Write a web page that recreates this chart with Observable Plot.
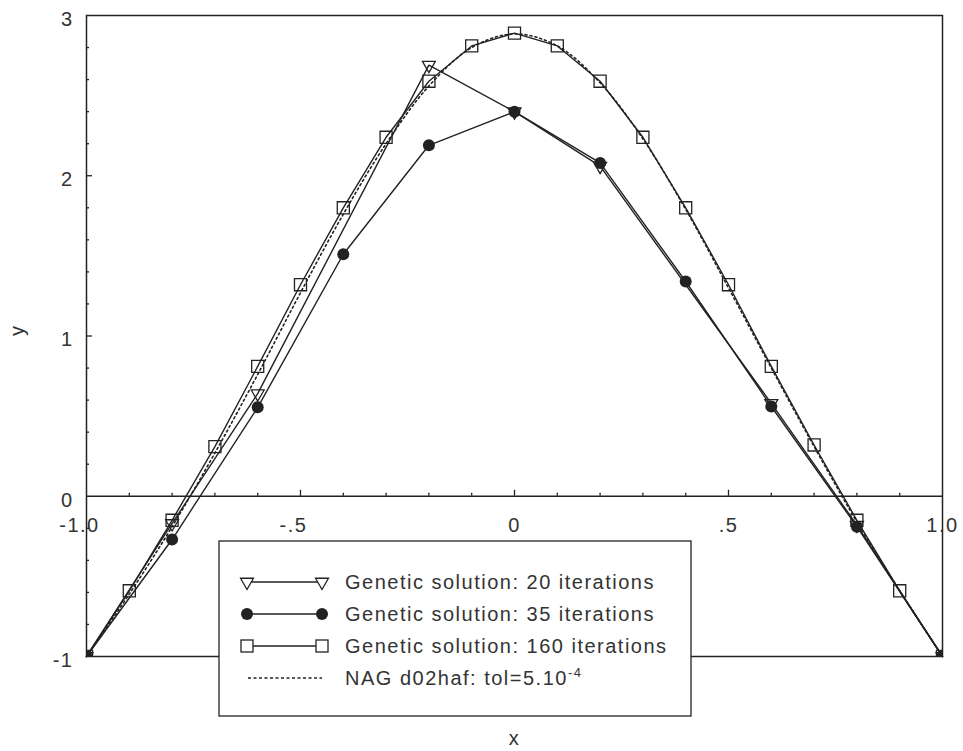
<!DOCTYPE html>
<html>
<head>
<meta charset="utf-8">
<script src="https://cdn.jsdelivr.net/npm/d3@7"></script>
<script src="https://cdn.jsdelivr.net/npm/@observablehq/plot@0.6"></script>
<style>
  html, body { margin: 0; padding: 0; background: #fff; }
  #chart { position: relative; width: 963px; height: 751px; }
</style>
</head>
<body>
<div id="chart"></div>
<script>
// ---- data ----
const xSq = [-1, -0.9, -0.8, -0.7, -0.6, -0.5, -0.4, -0.3, -0.2, -0.1, 0, 0.1, 0.2, 0.3, 0.4, 0.5, 0.6, 0.7, 0.8, 0.9, 1];
const ySq160 = [-1, -0.59, -0.15, 0.31, 0.81, 1.32, 1.80, 2.24, 2.59, 2.81, 2.89, 2.81, 2.59, 2.24, 1.80, 1.32, 0.81, 0.32, -0.15, -0.59, -1];

const xCirc = [-1, -0.8, -0.6, -0.4, -0.2, 0, 0.2, 0.4, 0.6, 0.8, 1];
const yCirc35 = [-1, -0.27, 0.555, 1.51, 2.19, 2.40, 2.08, 1.34, 0.56, -0.19, -1];

const xTri = [-1, -0.8, -0.6, -0.2, 0, 0.2, 0.6, 0.8, 1];
const yTri20 = [-1, -0.17, 0.64, 2.69, 2.40, 2.06, 0.58, -0.18, -1];

const xNag = [-1, -0.9, -0.8, -0.7, -0.6, -0.5, -0.4, -0.3, -0.2, -0.1, 0, 0.1, 0.2, 0.3, 0.4, 0.5, 0.6, 0.7, 0.8, 0.9, 1];
const yNag = [-1, -0.61, -0.19, 0.27, 0.76, 1.27, 1.76, 2.20, 2.56, 2.80, 2.885, 2.81, 2.58, 2.23, 1.79, 1.30, 0.80, 0.31, -0.16, -0.59, -1];

const xTickValues = [-1, -0.5, 0, 0.5, 1];
const xTickLabels = ["-1.0", "-.5", "0", ".5", "1.0"];
const xMinorTicks = [-0.9, -0.8, -0.7, -0.6, -0.4, -0.3, -0.2, -0.1, 0.1, 0.2, 0.3, 0.4, 0.6, 0.7, 0.8, 0.9];
const xMajorTicks = [-0.5, 0, 0.5];

const yTickValues = [-1, 0, 1, 2, 3];
const yTickLabels = ["-1", "0", "1", "2", "3"];
const yMinorTicks = [-0.8, -0.6, -0.4, -0.2, 0.2, 0.4, 0.6, 0.8, 1.2, 1.4, 1.6, 1.8, 2.2, 2.4, 2.6, 2.8];
const yMajorTicks = [1, 2];

const seriesNames = ["Genetic solution: 20 iterations", "Genetic solution: 35 iterations", "Genetic solution: 160 iterations", "NAG d02haf: tol=5.10"];

// ---- build tables ----
const sq = xSq.map((x, i) => ({x, y: ySq160[i]}));
const circ = xCirc.map((x, i) => ({x, y: yCirc35[i]}));
const tri = xTri.map((x, i) => ({x, y: yTri20[i]}));
const nag = xNag.map((x, i) => ({x, y: yNag[i]}));
const xLab = xTickValues.map((v, i) => ({v, t: xTickLabels[i]}));
const yLab = yTickValues.map((v, i) => ({v, t: yTickLabels[i]}));

const ink = "#222";
const W = 963, H = 751, mL = 86, mR = 21, mT = 15, mB = 95;
const pxY = 4 / (H - mT - mB);
const pxX = 2 / (W - mL - mR);

const downTriangle = {
  draw(ctx, size) {
    const s3 = Math.sqrt(3);
    const y = Math.sqrt(size / (s3 * 3));
    ctx.moveTo(0, 2 * y);
    ctx.lineTo(-s3 * y, -y);
    ctx.lineTo(s3 * y, -y);
    ctx.closePath();
  }
};

const font = "'Liberation Sans', Arial, Helvetica, sans-serif";

const svg = Plot.plot({
  width: W, height: H,
  marginLeft: mL, marginRight: mR, marginTop: mT, marginBottom: mB,
  x: {domain: [-1, 1], axis: null},
  y: {domain: [-1, 3], axis: null},
  style: {fontFamily: font, fontSize: "20px", background: "#fff", color: ink, letterSpacing: "1.5px"},
  marks: [
    Plot.ruleY([0], {stroke: ink, strokeWidth: 1.3}),
    Plot.ruleX(xMinorTicks, {x: d => d, y1: 0, y2: 3 * pxY, stroke: ink, strokeWidth: 1.3}),
    Plot.ruleX(xMajorTicks, {x: d => d, y1: 0, y2: 6 * pxY, stroke: ink, strokeWidth: 1.3}),
    Plot.ruleY(yMinorTicks, {y: d => d, x1: -1, x2: -1 + 3 * pxX, stroke: ink, strokeWidth: 1.3}),
    Plot.ruleY(yMajorTicks, {y: d => d, x1: -1, x2: -1 + 6 * pxX, stroke: ink, strokeWidth: 1.3}),
    Plot.line(nag, {x: "x", y: "y", curve: "catmull-rom", stroke: ink, strokeWidth: 1.6, strokeDasharray: "2,3"}),
    Plot.line(tri, {x: "x", y: "y", stroke: ink, strokeWidth: 1.4}),
    Plot.line(circ, {x: "x", y: "y", stroke: ink, strokeWidth: 1.4}),
    Plot.line(sq, {x: "x", y: "y", stroke: ink, strokeWidth: 1.4}),
    Plot.dot(tri, {x: "x", y: "y", symbol: downTriangle, r: 4.8, stroke: ink, fill: "none", strokeWidth: 1.3, clip: "frame"}),
    Plot.dot(sq, {x: "x", y: "y", symbol: "square", r: 6.8, stroke: ink, fill: "none", strokeWidth: 1.3, clip: "frame"}),
    Plot.dot(circ, {x: "x", y: "y", r: 6, fill: ink, stroke: "none", clip: "frame"}),
    Plot.frame({stroke: ink, strokeWidth: 1.5}),
    Plot.text(xLab.filter(d => d.v >= 0), {x: "v", y: () => 0, text: "t", dy: 29, fill: "#333"}),
    Plot.text(xLab.filter(d => d.v < 0), {x: "v", y: () => 0, text: "t", dy: 29, dx: -7, fill: "#333"}),
    Plot.text(yLab, {x: () => -1, y: "v", text: "t", textAnchor: "end", dx: -13, dy: 4, fill: "#333"}),
    Plot.text(["y"], {text: d => d, frameAnchor: "left", dx: -69, rotate: -90, fill: "#333"}),
    Plot.text(["x"], {text: d => d, frameAnchor: "bottom", dy: 88, fill: "#333"})
  ]
});

// ---- legend drawn into the same svg ----
const lg = d3.select(svg).append("g").attr("transform", "translate(219,541)")
  .attr("text-anchor", "start")
  .style("font-family", font).style("font-size", "20px").style("letter-spacing", "1.5px");
lg.append("rect").attr("x", 0).attr("y", 0).attr("width", 472).attr("height", 175)
  .attr("fill", "#fff").attr("stroke", ink).attr("stroke-width", 1.3);

const rowY = [41, 73, 105, 137];
const sx1 = 28, sx2 = 103, tx = 126;
rowY.forEach((ry, i) => {
  const line = lg.append("line").attr("x1", sx1).attr("x2", sx2).attr("y1", ry).attr("y2", ry)
    .attr("stroke", ink).attr("stroke-width", 1.4);
  if (i === 3) line.attr("stroke-dasharray", "3,2.5").attr("stroke-width", 1.3).attr("x1", sx1 + 1);
  [sx1, sx2].forEach(cx => {
    if (i === 0) {
      lg.append("path").attr("d", d3.symbol(downTriangle, 4.8 * 4.8 * Math.PI)())
        .attr("transform", `translate(${cx},${ry})`).attr("fill", "#fff").attr("stroke", ink).attr("stroke-width", 1.3);
    } else if (i === 1) {
      lg.append("circle").attr("cx", cx).attr("cy", ry).attr("r", 6).attr("fill", ink);
    } else if (i === 2) {
      lg.append("rect").attr("x", cx - 6).attr("y", ry - 6).attr("width", 12).attr("height", 12)
        .attr("fill", "#fff").attr("stroke", ink).attr("stroke-width", 1.3);
    }
  });
  const t = lg.append("text").attr("x", tx).attr("y", ry).attr("dy", "0.36em").attr("fill", "#333")
    .attr("text-anchor", "start").text(seriesNames[i]);
  if (i === 3) {
    t.append("tspan").attr("dy", "-0.62em").style("font-size", "13px").text("-4");
  }
});

document.getElementById("chart").appendChild(svg);
</script>
</body>
</html>
